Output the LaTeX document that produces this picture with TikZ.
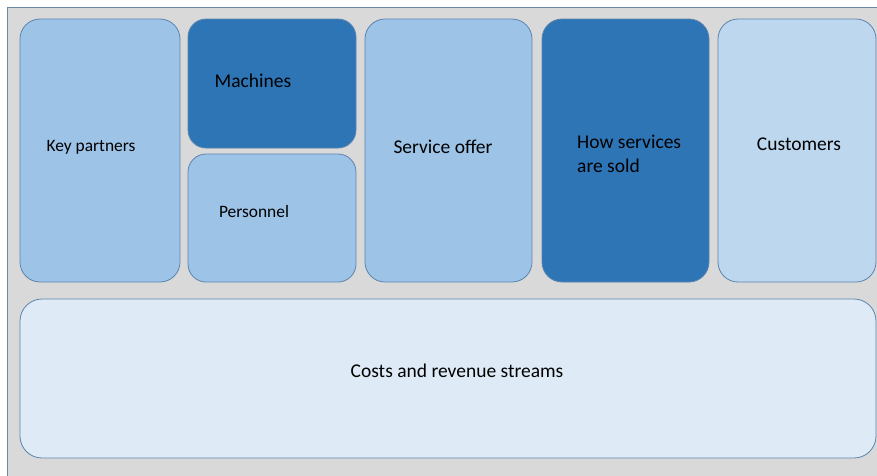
\documentclass[tikz,border=0pt]{standalone}
\usepackage{fontspec}
\setmainfont{Carlito}
\definecolor{bggray}{HTML}{D9D9D9}
\definecolor{bgline}{HTML}{6A88A8}
\definecolor{lightblue}{HTML}{9DC3E6}
\definecolor{darkblue}{HTML}{2E75B6}
\definecolor{paleblue}{HTML}{BDD7EE}
\definecolor{palerblue}{HTML}{DEEBF7}
\definecolor{edgeblue}{HTML}{5B84AE}
\begin{document}
\begin{tikzpicture}[x=1pt,y=-1pt,
  cell/.style={draw=edgeblue, line width=0.8pt, rounded corners=20pt},
  lbl/.style={font=\fontsize{19.5}{24}\selectfont, text=black, inner sep=0pt},
  lbls/.style={font=\fontsize{17.4}{21}\selectfont, text=black, inner sep=0pt}]
\useasboundingbox (0,0) rectangle (877,475);
\fill[white] (0,0) rectangle (877,475);
\filldraw[fill=bggray, draw=bgline, line width=0.8pt] (7,7) rectangle (880,478);
% boxes
\draw[cell, fill=lightblue] (20,19) rectangle (180,282);
\draw[cell, fill=darkblue, rounded corners=18pt] (188,19) rectangle (356,148);
\draw[cell, fill=lightblue, rounded corners=18pt] (188,154) rectangle (356,282);
\draw[cell, fill=lightblue] (365,19) rectangle (532,282);
\draw[cell, fill=darkblue] (542,19) rectangle (709,282);
\draw[cell, fill=paleblue] (718,19) rectangle (876,282);
\draw[cell, fill=palerblue, rounded corners=22pt] (20,299) rectangle (876,458);
% labels
\node[lbls] (tkp) at (91,147) {Key partners};
\node[lbl] (tma) at (253,81) {Machines};
\node[lbls] (tpe) at (254,212) {Personnel};
\node[lbl] (tso) at (443,147) {Service offer};
\node[lbl, align=left, anchor=west] (ths) at (577,154) {How services\\are sold};
\node[lbl] (tcu) at (799,144) {Customers};
\node[lbl] (tco) at (457,371) {Costs and revenue streams};
\end{tikzpicture}
\end{document}
